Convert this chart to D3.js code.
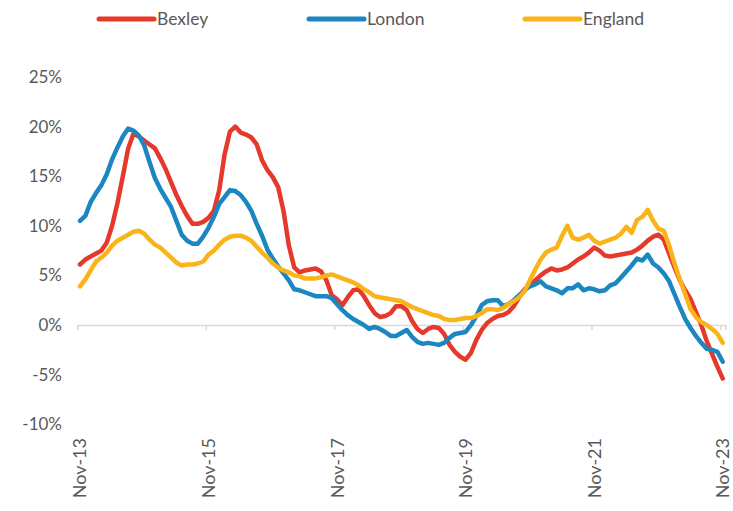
<!DOCTYPE html>
<html>
<head>
<meta charset="utf-8">
<script src="https://cdn.jsdelivr.net/npm/d3@7/dist/d3.min.js"></script>
<style>
  html, body { margin: 0; padding: 0; background: #fff; }
  svg { display: block; }
  text { font-family: Lato, "Open Sans", "Liberation Sans", sans-serif; fill: #595959; }
</style>
</head>
<body>
<svg id="chart" width="733" height="511"></svg>
<script>
// ---- data ----
const tickLabels = ["Nov-13", "Nov-15", "Nov-17", "Nov-19", "Nov-21", "Nov-23"];
const yTicks = [-10, -5, 0, 5, 10, 15, 20, 25];
const seriesNames = ["Bexley", "London", "England"];

const bexley = [
  6.1, 6.6, 6.9, 7.2, 7.5, 8.3, 10.0, 12.3, 15.0, 17.8,
  19.3, 19.0, 18.6, 18.2, 17.8, 16.8, 15.7, 14.4, 13.1, 12.0,
  11.0, 10.2, 10.2, 10.4, 10.8, 11.5, 13.6, 17.2, 19.5, 20.0,
  19.4, 19.2, 18.9, 18.2, 16.6, 15.6, 14.9, 13.9, 11.5, 8.0,
  5.8, 5.3, 5.5, 5.6, 5.7, 5.4, 4.5, 3.0, 2.6, 2.0,
  2.8, 3.5, 3.6, 2.9, 2.0, 1.2, 0.8, 0.9, 1.2, 1.9,
  1.9, 1.5, 0.4, -0.4, -0.8, -0.4, -0.2, -0.3, -0.9, -2.0,
  -2.7, -3.2, -3.5, -2.8, -1.5, -0.5, 0.2, 0.6, 0.9, 1.0,
  1.3, 1.9, 2.8, 3.6, 4.0, 4.5, 5.0, 5.4, 5.7, 5.5,
  5.6, 5.8, 6.2, 6.6, 6.9, 7.3, 7.8, 7.5, 7.0, 6.9,
  7.0, 7.1, 7.2, 7.3, 7.6, 8.0, 8.5, 8.9, 9.1, 8.6,
  7.2, 5.8, 4.5, 3.5, 2.6, 1.3, 0.0, -1.6, -2.9, -4.2,
  -5.4
];
const london = [
  10.5, 11.0, 12.4, 13.3, 14.1, 15.2, 16.7, 17.9, 19.0, 19.8,
  19.6, 19.1, 18.1, 16.4, 14.8, 13.7, 12.8, 11.9, 10.5, 9.1,
  8.5, 8.2, 8.2, 8.9, 9.8, 10.9, 12.2, 12.9, 13.6, 13.5,
  13.1, 12.4, 11.5, 10.2, 9.0, 7.6, 6.7, 5.9, 5.2, 4.5,
  3.6, 3.5, 3.3, 3.1, 2.9, 2.9, 2.9, 2.7, 2.1, 1.5,
  1.0, 0.6, 0.3, 0.0, -0.4, -0.2, -0.4, -0.7, -1.1, -1.1,
  -0.8, -0.5, -1.2, -1.7, -1.9, -1.8, -1.9, -2.0, -1.8, -1.3,
  -0.9, -0.8, -0.7, 0.0, 0.9, 2.0, 2.4, 2.5, 2.5, 1.9,
  2.1, 2.5, 3.0, 3.5, 3.9, 4.1, 4.4, 3.9, 3.7, 3.5,
  3.2, 3.7, 3.7, 4.1, 3.5, 3.7, 3.6, 3.4, 3.5, 4.0,
  4.2, 4.8, 5.4, 6.0, 6.7, 6.5, 7.1, 6.2, 5.8, 5.2,
  4.4, 3.1, 1.8, 0.6, -0.3, -1.1, -1.8, -2.4, -2.5, -2.7,
  -3.7
];
const england = [
  3.9, 4.6, 5.5, 6.4, 6.8, 7.3, 8.0, 8.5, 8.8, 9.1,
  9.4, 9.5, 9.2, 8.6, 8.1, 7.8, 7.3, 6.8, 6.3, 6.0,
  6.1, 6.1, 6.2, 6.4, 7.1, 7.5, 8.1, 8.6, 8.9, 9.0,
  9.0, 8.8, 8.5, 7.9, 7.3, 6.8, 6.2, 5.8, 5.5, 5.3,
  5.0, 4.9, 4.7, 4.7, 4.7, 4.8, 5.0, 5.1, 4.9, 4.7,
  4.5, 4.3, 4.0, 3.6, 3.3, 2.9, 2.8, 2.7, 2.6, 2.5,
  2.4, 2.1, 1.8, 1.6, 1.4, 1.2, 1.0, 0.9, 0.6, 0.5,
  0.5, 0.6, 0.7, 0.7, 0.9, 1.2, 1.6, 1.6, 1.5, 1.7,
  2.1, 2.4, 2.8, 3.4, 4.5, 5.6, 6.6, 7.3, 7.6, 7.8,
  9.0, 10.0, 8.8, 8.6, 8.8, 9.1, 8.5, 8.2, 8.4, 8.6,
  8.8, 9.2, 9.9, 9.3, 10.6, 10.9, 11.6, 10.5, 9.7, 9.5,
  8.0, 6.2, 4.6, 3.1, 1.6, 0.8, 0.3, 0.0, -0.4, -0.9,
  -1.8
];
const colors = ["#E53A2B", "#1C86C0", "#FBB31A"];

// ---- chart ----
const svg = d3.select("#chart");
const n = bexley.length;

const x = d3.scaleLinear().domain([-0.5, n - 0.5]).range([77.3, 725.4]);
const y = d3.scaleLinear().domain([-10, 25]).range([424.2, 77]);

// x axis line at 0
const axisG = svg.append("g").attr("transform", `translate(0,${y(0)})`);
const xAxis = d3.axisBottom(x)
  .tickValues(tickLabels.map((d, i) => i * 24 - 0.5))
  .tickSize(5)
  .tickFormat("");
axisG.call(xAxis);
axisG.select(".domain").attr("stroke", "#D9D9D9").attr("stroke-width", 1.5);
axisG.selectAll(".tick line").attr("stroke", "#D9D9D9").attr("stroke-width", 1.5);

// x labels (rotated)
svg.append("g").selectAll("text")
  .data(tickLabels)
  .join("text")
  .attr("transform", (d, i) => `translate(${x(i * 24) + 6.5},438) rotate(-90)`)
  .attr("text-anchor", "end")
  .attr("font-size", 18)
  .text(d => d);

// y labels
const yAxis = d3.axisLeft(y).tickValues(yTicks).tickSize(0).tickPadding(0)
  .tickFormat(d => d + "%");
const yG = svg.append("g").attr("transform", "translate(62,0)").call(yAxis);
yG.select(".domain").remove();
yG.selectAll("text")
  .attr("font-size", 17)
  .attr("font-family", 'Lato, "Open Sans", "Liberation Sans", sans-serif')
  .attr("fill", "#595959");

// lines
const line = d3.line().x((d, i) => x(i)).y(d => y(d)).curve(d3.curveLinear);
const seriesData = [bexley, london, england];
svg.append("g").selectAll("path")
  .data(seriesData)
  .join("path")
  .attr("d", d => line(d))
  .attr("fill", "none")
  .attr("stroke", (d, i) => colors[i])
  .attr("stroke-width", 4.5)
  .attr("stroke-linejoin", "round")
  .attr("stroke-linecap", "round");

// legend
const legendX = [99, 309, 525];
const lg = svg.append("g").selectAll("g")
  .data(seriesNames)
  .join("g")
  .attr("transform", (d, i) => `translate(${legendX[i]},19)`);
lg.append("line")
  .attr("x1", 0).attr("x2", 55).attr("y1", 0).attr("y2", 0)
  .attr("stroke", (d, i) => colors[i])
  .attr("stroke-width", 5)
  .attr("stroke-linecap", "round");
lg.append("text")
  .attr("x", 58).attr("y", 6)
  .attr("font-size", 17.5)
  .text(d => d);
</script>
</body>
</html>
